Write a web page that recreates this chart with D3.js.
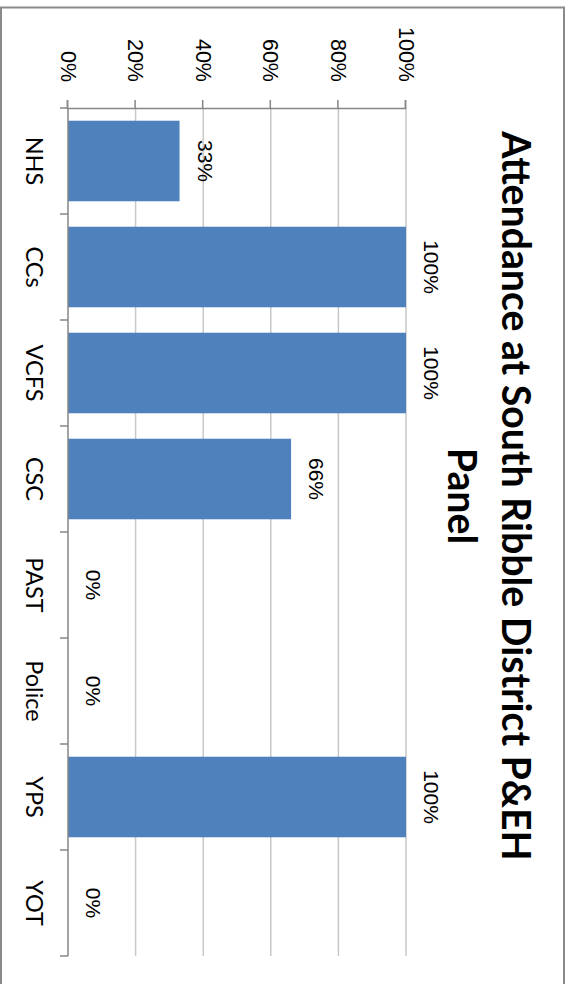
<!DOCTYPE html>
<html>
<head>
<meta charset="utf-8">
<script src="https://cdn.jsdelivr.net/npm/d3@7/dist/d3.min.js"></script>
<style>
  html, body { margin: 0; padding: 0; background: #fff; }
  svg { display: block; }
</style>
</head>
<body>
<svg id="chart" width="567" height="984"></svg>
<script>
const categories = ["NHS", "CCs", "VCFS", "CSC", "PAST", "Police", "YPS", "YOT"];
const values = [0.33, 1.00, 1.00, 0.66, 0.00, 0.00, 1.00, 0.00];
const valueTicks = [0, 0.2, 0.4, 0.6, 0.8, 1.0];
const titleLines = ["Attendance at South Ribble District P&EH", "Panel"];

const W = 567, H = 984;
const svg = d3.select("#chart");

// outer frame (screen coords)
svg.append("rect")
  .attr("x", 1).attr("y", 7.5)
  .attr("width", 563).attr("height", 1100)
  .attr("fill", "#fff")
  .attr("stroke", "#8a8a8a").attr("stroke-width", 2);

// whole chart is rotated 90° clockwise: original (u,v) -> screen (W - v, u)
const g = svg.append("g").attr("transform", `translate(${W},0) rotate(90)`);

const x = d3.scaleBand().domain(categories).range([108, 956]).paddingInner(0.24).paddingOuter(0.12);
const y = d3.scaleLinear().domain([0, 1]).range([499, 161]);

// gridlines
g.append("g").selectAll("line").data(valueTicks.slice(1)).join("line")
  .attr("x1", 108).attr("x2", 956)
  .attr("y1", d => y(d)).attr("y2", d => y(d))
  .attr("stroke", "#c8c8c8").attr("stroke-width", 1.5);

// bars
g.append("g").selectAll("rect").data(categories).join("rect")
  .attr("x", d => x(d))
  .attr("width", x.bandwidth())
  .attr("y", (d, i) => y(values[i]))
  .attr("height", (d, i) => y(0) - y(values[i]))
  .attr("fill", "#4f81bd");

// value axis (left in original frame)
const yAxis = d3.axisLeft(y).tickValues(valueTicks).tickFormat(d3.format(".0%")).tickSize(8).tickPadding(18);
const ya = g.append("g").attr("transform", "translate(108,0)").call(yAxis);
ya.select(".domain").attr("stroke", "#868686").attr("stroke-width", 1.5);
ya.selectAll(".tick line").attr("stroke", "#868686").attr("stroke-width", 1.5);
ya.selectAll(".tick text")
  .attr("font-family", "'Liberation Sans', Arial, sans-serif")
  .attr("font-size", 21.5).attr("fill", "#000");

// category axis (bottom in original frame)
const bounds = d3.range(categories.length + 1).map(i => 108 + i * x.step());
const cat = g.append("g");
cat.append("line")
  .attr("x1", 108).attr("x2", 956).attr("y1", y(0)).attr("y2", y(0))
  .attr("stroke", "#868686").attr("stroke-width", 1.5);
cat.selectAll("line.tk").data(bounds).join("line").attr("class", "tk")
  .attr("x1", d => d).attr("x2", d => d)
  .attr("y1", y(0)).attr("y2", y(0) + 8)
  .attr("stroke", "#868686").attr("stroke-width", 1.5);
cat.selectAll("text").data(categories).join("text")
  .attr("x", d => x(d) + x.bandwidth() / 2)
  .attr("y", y(0) + 42)
  .attr("text-anchor", "middle")
  .attr("font-family", "Lato, 'Open Sans', sans-serif")
  .attr("font-size", 23.5).attr("fill", "#000")
  .text(d => d);

// data labels
g.append("g").selectAll("text").data(categories).join("text")
  .attr("x", d => x(d) + x.bandwidth() / 2)
  .attr("y", (d, i) => y(values[i]) - 18)
  .attr("text-anchor", "middle")
  .attr("font-family", "'Liberation Sans', Arial, sans-serif")
  .attr("font-size", 21).attr("fill", "#000")
  .text((d, i) => d3.format(".0%")(values[i]));

// title
const t = g.append("g");
t.selectAll("text").data(titleLines).join("text")
  .attr("x", 496)
  .attr("y", (d, i) => 65 + i * 54)
  .attr("text-anchor", "middle")
  .attr("font-family", "Lato, 'Open Sans', sans-serif")
  .attr("font-weight", "bold")
  .attr("font-size", 40).attr("fill", "#000")
  .text(d => d);
// fit first line to the measured width
const first = t.select("text").node();
const len = first.getComputedTextLength();
const fs = 40 * 730 / len;
t.selectAll("text").attr("font-size", fs);
</script>
</body>
</html>
